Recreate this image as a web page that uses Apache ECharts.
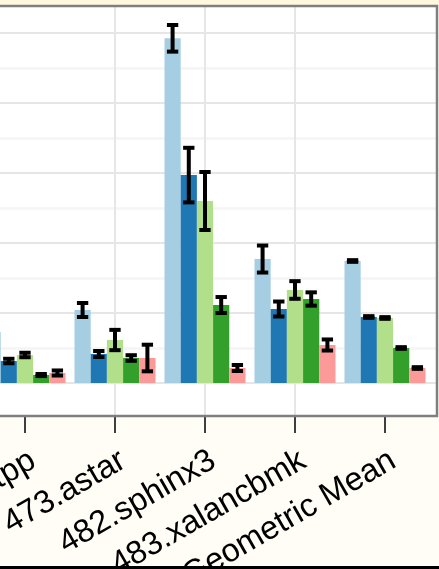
<!DOCTYPE html>
<html><head><meta charset="utf-8">
<script src="https://cdn.jsdelivr.net/npm/echarts@6/dist/echarts.min.js"></script>
<style>
html,body{margin:0;padding:0;width:439px;height:569px;overflow:hidden;background:#fffdf6;position:relative}
#top{position:absolute;left:0;top:0;width:439px;height:6px;background:#fff8dc}
#chart{position:absolute;left:-100px;top:0;width:539px;height:569px}
#bottom{position:absolute;left:0;top:566px;width:439px;height:3px;background:#000}
</style></head><body>
<div id="top"></div><div id="chart"></div><div id="bottom"></div>
<script>
const categories = ['471.omnetpp', '473.astar', '482.sphinx3', '483.xalancbmk', 'Geometric Mean'];
const tickPositions = [0, 1, 2, 3, 4];
const seriesNames = ['Series 1', 'Series 2', 'Series 3', 'Series 4', 'Series 5'];
const colors = ['#a6cee3', '#1f78b4', '#b2df8a', '#33a02c', '#fb9a99'];
const values1 = [0.729, 1.043, 4.924, 1.771, 1.743];
const values2 = [0.314, 0.414, 2.970, 1.057, 0.943];
const values3 = [0.400, 0.614, 2.600, 1.329, 0.929];
const values4 = [0.114, 0.357, 1.114, 1.200, 0.500];
const values5 = [0.143, 0.357, 0.214, 0.543, 0.214];
const errors1 = [0.050, 0.100, 0.190, 0.193, 0.012];
const errors2 = [0.032, 0.043, 0.390, 0.107, 0.012];
const errors3 = [0.032, 0.145, 0.414, 0.126, 0.012];
const errors4 = [0.015, 0.040, 0.114, 0.095, 0.012];
const errors5 = [0.036, 0.190, 0.043, 0.079, 0.012];
const yTicks = [0, 1, 2, 3, 4, 5];

const seriesValues = [values1, values2, values3, values4, values5];
const seriesErrors = [errors1, errors2, errors3, errors4, errors5];
const X_MIN = -1, X_MAX = 4.578;
const BAR_FRAC = 0.18;

const errData = [];
seriesValues.forEach((vals, s) => {
  vals.forEach((v, j) => {
    errData.push([j, s, v - seriesErrors[s][j], v + seriesErrors[s][j]]);
  });
});

const chart = echarts.init(document.getElementById('chart'), null, {renderer: 'canvas'});
const line = (x1, y1, x2, y2) => ({type: 'line', shape: {x1, y1, x2, y2}, style: {stroke: '#000', lineWidth: 4}});
const gridBase = {left: 35, right: 2, outerBoundsMode: 'none', containLabel: false};
chart.setOption({
  animation: false,
  grid: [
    Object.assign({top: 33, bottom: 186}, gridBase),
    Object.assign({top: 6, bottom: 153, show: true, backgroundColor: '#ffffff', borderWidth: 0}, gridBase),
    Object.assign({top: 6, bottom: 153, show: true, backgroundColor: 'rgba(0,0,0,0)', borderColor: '#7f7f7f', borderWidth: 2.5, z: 10}, gridBase)
  ],
  xAxis: [
    {gridIndex: 0, type: 'value', min: X_MIN, max: X_MAX, show: false},
    {gridIndex: 1, type: 'value', min: X_MIN, max: X_MAX, interval: 1, position: 'bottom',
      axisLine: {show: false},
      axisTick: {show: true, length: 17, lineStyle: {color: '#000', width: 1.5}, customValues: tickPositions},
      axisLabel: {show: true, customValues: tickPositions, formatter: v => categories[Math.round(v)] || '',
        rotate: 30, fontSize: 32.5, color: '#000', fontFamily: 'Liberation Sans', margin: 28,
        verticalAlign: 'top', hideOverlap: false},
      splitLine: {show: true, showMinLine: false, showMaxLine: false, lineStyle: {color: '#e6e6e6', width: 2}}
    },
    {gridIndex: 2, type: 'value', min: 0, max: 1, show: false}
  ],
  yAxis: [
    {gridIndex: 0, type: 'value', min: yTicks[0], max: yTicks[yTicks.length - 1], interval: 1,
      axisLine: {show: false}, axisTick: {show: false}, axisLabel: {show: false},
      splitLine: {show: true, lineStyle: {color: '#e6e6e6', width: 2}},
      minorTick: {show: false, splitNumber: 2},
      minorSplitLine: {show: true, lineStyle: {color: '#f5f5f5', width: 2.5}}
    },
    {gridIndex: 1, type: 'value', min: 0, max: 1, show: false},
    {gridIndex: 2, type: 'value', min: 0, max: 1, show: false}
  ],
  series: seriesNames.map((name, i) => ({
    name, type: 'bar', xAxisIndex: 0, yAxisIndex: 0,
    data: seriesValues[i].map((v, j) => [j, v]),
    barWidth: (BAR_FRAC * 100) + '%', barGap: '0%',
    itemStyle: {color: colors[i]}
  })).concat([{
    type: 'custom', xAxisIndex: 0, yAxisIndex: 0, z: 4,
    data: errData,
    encode: {x: 0, y: [2, 3]},
    renderItem: (params, api) => {
      const j = api.value(0), s = api.value(1);
      const bw = api.size([1, 0])[0] * BAR_FRAC;
      const xc = api.coord([j, 0])[0] + (s - 2) * bw;
      const yl = api.coord([j, api.value(2)])[1];
      const yh = api.coord([j, api.value(3)])[1];
      const cap = bw * 0.35;
      return {type: 'group', children: [
        line(xc, yl, xc, yh), line(xc - cap, yl, xc + cap, yl), line(xc - cap, yh, xc + cap, yh)
      ]};
    }
  }])
});
</script>
</body></html>
